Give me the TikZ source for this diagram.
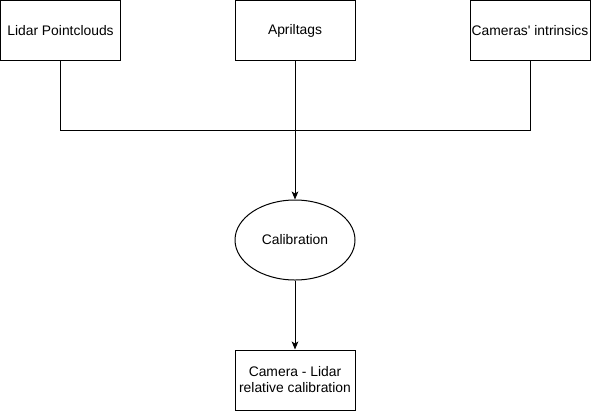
\documentclass[tikz,border=0pt]{standalone}
\usepackage{fontspec}
\setmainfont{Liberation Sans}
\usetikzlibrary{arrows.meta,shapes.geometric}
\begin{document}
\begin{tikzpicture}[x=0.75pt, y=-0.75pt, line width=0.75pt,
    every node/.style={font=\fontsize{10.4}{12}\selectfont},
    box/.style={draw, rectangle, minimum width=90pt, minimum height=45pt, inner sep=0pt, align=center},
    flow/.style={-{Stealth[length=6pt, width=5pt, inset=1.5pt]}}]
    \useasboundingbox (0,0) rectangle (591,411);

    % Entradas
    \node[box] (lidar) at (60.5,30.5) {Lidar Pointclouds};
    \node[box] (tags)  at (295,30.5)  {Apriltags};
    \node[box] (intr)  at (530,30.5)  {Cameras\textquotesingle{} intrinsics};

    % Calibração
    \node[draw, ellipse, minimum width=90pt, minimum height=60pt, inner sep=0pt] (calib) at (295,240) {Calibration};

    % Resultado
    \node[box] (result) at (295,380) {Camera - Lidar\\relative calibration};

    % Junção das entradas
    \coordinate (join) at (295,130);
    \draw (lidar.south) -- (lidar.south |- join) -- (intr.south |- join) -- (intr.south);
    \draw[flow] (tags.south) -- (calib.north);
    \draw[flow] (calib.south) -- (result.north);
\end{tikzpicture}
\end{document}
